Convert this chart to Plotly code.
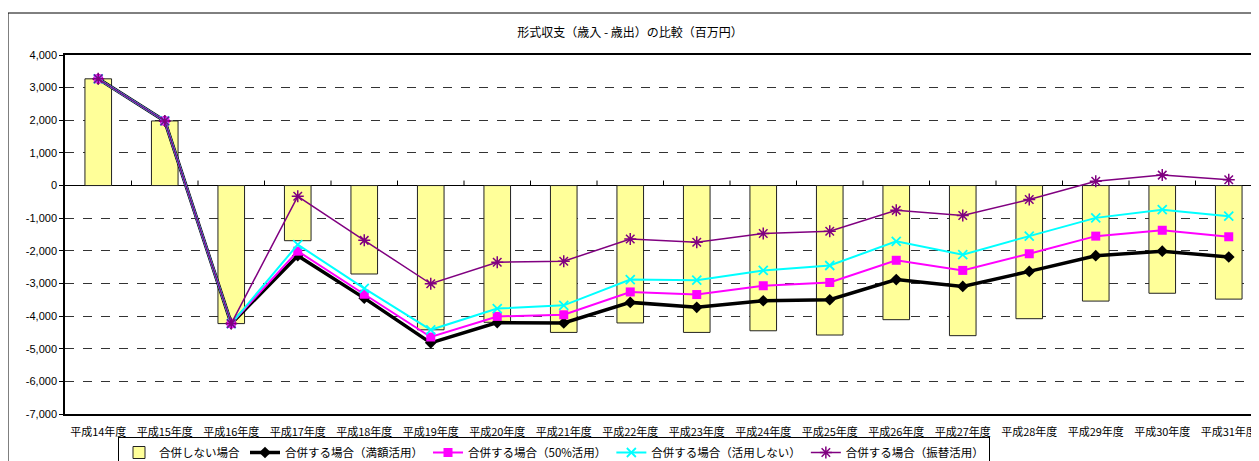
import plotly.graph_objects as go

categories = ["平成14年度", "平成15年度", "平成16年度", "平成17年度", "平成18年度", "平成19年度",
              "平成20年度", "平成21年度", "平成22年度", "平成23年度", "平成24年度", "平成25年度",
              "平成26年度", "平成27年度", "平成28年度", "平成29年度", "平成30年度", "平成31年度"]

no_merger = [3270, 1980, -4230, -1690, -2710, -4420, -4190, -4500, -4210, -4500, -4450, -4580,
             -4110, -4600, -4080, -3540, -3300, -3480]
merger_full = [3270, 1980, -4230, -2150, -3450, -4820, -4200, -4210, -3580, -3730, -3530, -3500,
               -2880, -3090, -2630, -2150, -2010, -2190]
merger_half = [3270, 1980, -4230, -2010, -3330, -4640, -4010, -3960, -3260, -3340, -3070, -2970,
               -2290, -2600, -2090, -1550, -1370, -1570]
merger_none = [3270, 1980, -4230, -1810, -3150, -4420, -3770, -3670, -2880, -2900, -2600, -2450,
               -1710, -2120, -1550, -990, -740, -940]
merger_transfer = [3270, 1980, -4230, -330, -1680, -3010, -2350, -2320, -1640, -1740, -1470, -1400,
                   -760, -920, -430, 130, 320, 180]

series_names = ["合併しない場合", "合併する場合（満額活用）", "合併する場合（50%活用）",
                "合併する場合（活用しない）", "合併する場合（振替活用）"]
y_ticks = list(range(-7000, 4001, 1000))
title_text = "形式収支（歳入 - 歳出）の比較（百万円）"

JP = "Noto Sans CJK JP"
x = list(range(len(categories)))

# page body has an 8px default margin; figure is sized to fill the rest of the window
OFF = 8
W, H = 1259 - OFF, 461 - OFF
L, T, B = 65 - OFF, 55 - OFF, H - (414 - OFF)
PW, PH = W - L, H - T - B
STEP = 66.5

fig = go.Figure()
fig.add_trace(go.Bar(x=x, y=no_merger, name=series_names[0], width=0.4,
                     marker=dict(color="#FFFF99", line=dict(color="#222222", width=1))))
fig.add_trace(go.Scatter(x=x, y=merger_full, name=series_names[1], mode="lines+markers",
                         line=dict(color="#000000", width=3.5),
                         marker=dict(symbol="diamond", size=9, color="#000000")))
fig.add_trace(go.Scatter(x=x, y=merger_half, name=series_names[2], mode="lines+markers",
                         line=dict(color="#FF00FF", width=2),
                         marker=dict(symbol="square", size=9, color="#FF00FF")))
fig.add_trace(go.Scatter(x=x, y=merger_none, name=series_names[3], mode="lines+markers",
                         line=dict(color="#00FFFF", width=2),
                         marker=dict(symbol="x-thin-open", size=9,
                                     line=dict(color="#00FFFF", width=1.8))))
fig.add_trace(go.Scatter(x=x, y=merger_transfer, name=series_names[4], mode="lines+markers",
                         line=dict(color="#800080", width=1.5),
                         marker=dict(symbol="asterisk-open", size=10,
                                     line=dict(color="#800080", width=1.5))))

shapes = []
# category boundary tick marks on the zero line
for i in range(len(categories) - 1):
    shapes.append(dict(type="line", xref="x", yref="y", x0=i + 0.5, x1=i + 0.5,
                       ysizemode="pixel", yanchor=0, y0=0, y1=5,
                       line=dict(color="#000000", width=1)))
# outer chart frame
shapes.append(dict(type="rect", xref="paper", yref="paper",
                   x0=(8 - 65) / PW, x1=1.2, y0=-0.3, y1=(414 - 13) / PH,
                   line=dict(color="#000000", width=1), fillcolor="rgba(0,0,0,0)", layer="below"))

fig.update_layout(
    width=W, height=H,
    margin=dict(l=L, r=0, t=T, b=B, autoexpand=False),
    paper_bgcolor="white", plot_bgcolor="white",
    title=dict(text=title_text, x=(630 - OFF) / W, xanchor="center", xref="container",
               y=1 - (33 - OFF) / H, yanchor="middle", yref="container",
               font=dict(family=JP, size=12, color="#000000")),
    font=dict(family=JP, color="#000000"),
    showlegend=True,
    legend=dict(orientation="h", x=(118 - 65) / PW, xanchor="left", y=-(437 - 414) / PH,
                yanchor="top", bordercolor="#000000", borderwidth=1,
                font=dict(family=JP, size=11.5, color="#000000"), itemwidth=30,
                tracegroupgap=0, traceorder="normal", bgcolor="white"),
    shapes=shapes,
    bargap=0.6,
)
fig.update_xaxes(range=[-0.5, PW / STEP - 0.5], tickmode="array", tickvals=x,
                 ticktext=categories, ticks="", showline=True, mirror=True, linecolor="#000000",
                 linewidth=1.5, showgrid=False, zeroline=False, ticklabelstandoff=7,
                 tickfont=dict(family=JP, size=11, color="#000000"))
fig.update_yaxes(range=[-7000, 4000], tickmode="array", tickvals=y_ticks,
                 ticktext=[f"{v:,}" for v in y_ticks], ticks="outside", ticklen=4,
                 tickcolor="#000000", showline=True, linecolor="#000000", linewidth=1.5,
                 showgrid=True, gridcolor="#333333", griddash="dash", gridwidth=1,
                 zeroline=True, zerolinecolor="#000000", zerolinewidth=1.2,
                 tickfont=dict(family="Liberation Sans", size=11, color="#000000"))

fig.write_html("out.html")
